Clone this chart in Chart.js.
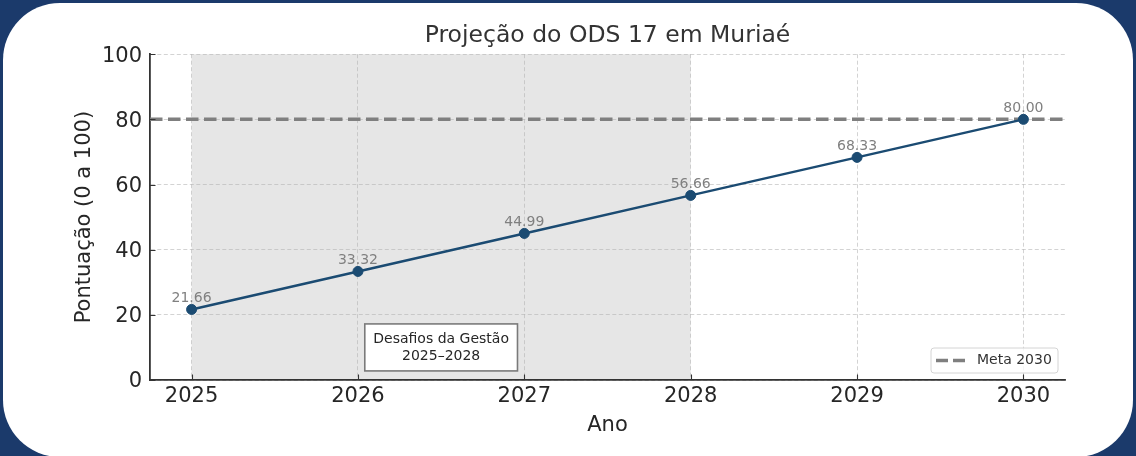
<!DOCTYPE html>
<html lang="pt-BR">
<head>
    <meta charset="UTF-8">
    <meta name="viewport" content="width=device-width, initial-scale=1.0">
    <title>Projeção do ODS 17 em Muriaé</title>
    <style>
        body {
            margin: 0;
            width: 1136px;
            height: 456px;
            overflow: hidden;
            position: relative;
            background-color: #1b3a6b;
            font-family: "DejaVu Sans", sans-serif;
        }

        #card {
            position: absolute;
            left: 3px;
            top: 3px;
            width: 1130px;
            height: 454px;
            background-color: #fff;
            border-radius: 57px;
        }

        #grafico {
            position: absolute;
            left: 0;
            top: 0;
        }
    </style>
</head>
<body>
    <div id="card"></div>
    <canvas id="grafico" width="1136" height="456"></canvas>

    <!-- Chart.js -->
    <script src="https://cdn.jsdelivr.net/npm/chart.js"></script>

    <script>
        // dados da projeção
        const anos = [2025, 2026, 2027, 2028, 2029, 2030];
        const pontuacao = [21.66, 33.32, 44.99, 56.66, 68.33, 80.00];
        const meta = 80;
        const rotuloMeta = 'Meta 2030';
        const periodoGestao = [2025, 2028];
        const textoGestao = ['Desafios da Gestão', '2025–2028'];
        const posGestao = [2026.5, 10];
        const limitesX = [2024.75, 2030.25];
        const limitesY = [0, 100];

        const corLinha = '#1b4b72';
        const corMeta = '#7f7f7f';
        const corTexto = '#262626';

        Chart.defaults.font.family = '"DejaVu Sans", sans-serif';

        // faixa cinza do período de gestão, por baixo da grade
        const faixaGestao = {
            id: 'faixaGestao',
            beforeDraw(chart) {
                const { ctx, chartArea: a, scales: { x } } = chart;
                const x1 = x.getPixelForValue(periodoGestao[0]);
                const x2 = x.getPixelForValue(periodoGestao[1]);
                ctx.save();
                ctx.fillStyle = '#e6e6e6';
                ctx.fillRect(x1, a.top, x2 - x1, a.bottom - a.top);
                ctx.restore();
            }
        };

        // valores escritos acima de cada ponto
        const rotulosValores = {
            id: 'rotulosValores',
            afterDatasetsDraw(chart) {
                const { ctx } = chart;
                const pts = chart.getDatasetMeta(0).data;
                ctx.save();
                ctx.font = '14px "DejaVu Sans", sans-serif';
                ctx.fillStyle = '#808080';
                ctx.textAlign = 'center';
                ctx.textBaseline = 'alphabetic';
                pts.forEach((p, i) => {
                    ctx.fillText(pontuacao[i].toFixed(2), p.x, p.y - 7);
                });
                ctx.restore();
            }
        };

        // marcas dos ticks para dentro, caixa de texto e legenda
        const extras = {
            id: 'extras',
            afterDraw(chart) {
                const { ctx, chartArea: a, scales: { x, y } } = chart;
                ctx.save();

                ctx.strokeStyle = '#333';
                ctx.lineWidth = 1.1;
                ctx.beginPath();
                x.ticks.forEach(t => {
                    const px = Math.round(x.getPixelForValue(t.value)) + 0.5;
                    ctx.moveTo(px, a.bottom);
                    ctx.lineTo(px, a.bottom - 5.5);
                });
                y.ticks.forEach(t => {
                    const py = Math.round(y.getPixelForValue(t.value)) + 0.5;
                    ctx.moveTo(a.left, py);
                    ctx.lineTo(a.left + 5.5, py);
                });
                ctx.stroke();

                // caixa "Desafios da Gestão"
                ctx.font = '14px "DejaVu Sans", sans-serif';
                const lh = 17;
                const w = Math.max(...textoGestao.map(t => ctx.measureText(t).width)) + 17;
                const h = lh * textoGestao.length + 13;
                const cx = x.getPixelForValue(posGestao[0]);
                const cy = y.getPixelForValue(posGestao[1]);
                ctx.fillStyle = '#fff';
                ctx.fillRect(cx - w / 2, cy - h / 2, w, h);
                ctx.strokeStyle = '#7a7a7a';
                ctx.lineWidth = 1.6;
                ctx.strokeRect(cx - w / 2, cy - h / 2, w, h);
                ctx.fillStyle = corTexto;
                ctx.textAlign = 'center';
                ctx.textBaseline = 'middle';
                textoGestao.forEach((t, i) => {
                    ctx.fillText(t, cx, cy + (i - (textoGestao.length - 1) / 2) * lh);
                });

                // legenda no canto inferior direito
                const lw = 127, lhg = 25;
                const lx = a.right - 7 - lw;
                const ly = a.bottom - 7 - lhg;
                ctx.beginPath();
                ctx.roundRect(lx, ly, lw, lhg, 3);
                ctx.fillStyle = 'rgba(255,255,255,0.8)';
                ctx.fill();
                ctx.strokeStyle = '#d4d4d4';
                ctx.lineWidth = 1;
                ctx.stroke();
                ctx.beginPath();
                ctx.setLineDash([12, 5]);
                ctx.strokeStyle = corMeta;
                ctx.lineWidth = 3.5;
                ctx.moveTo(lx + 5, ly + lhg / 2);
                ctx.lineTo(lx + 34, ly + lhg / 2);
                ctx.stroke();
                ctx.setLineDash([]);
                ctx.fillStyle = '#333';
                ctx.textAlign = 'left';
                ctx.fillText(rotuloMeta, lx + 46, ly + lhg / 2);

                ctx.restore();
            }
        };

        const grade = {
            color: 'rgba(176,176,176,0.7)',
            lineWidth: 0.8,
            drawTicks: false
        };

        new Chart(document.getElementById('grafico'), {
            type: 'line',
            data: {
                datasets: [
                    {
                        label: 'Pontuação',
                        data: anos.map((a, i) => ({ x: a, y: pontuacao[i] })),
                        borderColor: corLinha,
                        backgroundColor: corLinha,
                        borderWidth: 2.5,
                        pointRadius: 5,
                        pointBorderWidth: 1,
                        pointBackgroundColor: corLinha,
                        pointBorderColor: corLinha,
                        tension: 0
                    },
                    {
                        label: rotuloMeta,
                        data: [{ x: limitesX[0], y: meta }, { x: limitesX[1], y: meta }],
                        borderColor: corMeta,
                        borderWidth: 3.5,
                        borderDash: [12.5, 5.5],
                        pointRadius: 0
                    }
                ]
            },
            options: {
                responsive: false,
                animation: false,
                layout: { padding: { left: 0, right: 71, top: 0, bottom: 0 } },
                plugins: {
                    legend: { display: false },
                    tooltip: { enabled: false },
                    title: {
                        display: true,
                        text: 'Projeção do ODS 17 em Muriaé',
                        fullSize: false,
                        color: '#333',
                        font: { size: 23.5, weight: 'normal' },
                        padding: { top: 22, bottom: 4 }
                    }
                },
                scales: {
                    x: {
                        type: 'linear',
                        min: limitesX[0],
                        max: limitesX[1],
                        afterBuildTicks: s => { s.ticks = anos.map(v => ({ value: v })); },
                        afterFit: s => { s.height = 76; },
                        grid: grade,
                        border: { display: true, color: '#333', width: 1.8, dash: [4, 2.5] },
                        ticks: {
                            color: corTexto,
                            font: { size: 21 },
                            padding: 4,
                            maxRotation: 0,
                            callback: v => String(v)
                        },
                        title: {
                            display: true,
                            text: 'Ano',
                            color: corTexto,
                            font: { size: 21 },
                            padding: { top: 0, bottom: 18 }
                        }
                    },
                    y: {
                        min: limitesY[0],
                        max: limitesY[1],
                        afterFit: s => { s.width = 150; },
                        grid: grade,
                        border: { display: true, color: '#333', width: 1.8, dash: [4, 2.5] },
                        ticks: {
                            stepSize: 20,
                            color: corTexto,
                            font: { size: 21 },
                            padding: 8,
                            labelOffset: 2,
                            callback: v => String(v)
                        },
                        title: {
                            display: true,
                            text: 'Pontuação (0 a 100)',
                            color: corTexto,
                            font: { size: 21 },
                            padding: { top: 72, bottom: 0 }
                        }
                    }
                }
            },
            plugins: [faixaGestao, rotulosValores, extras]
        });
    </script>
</body>
</html>
